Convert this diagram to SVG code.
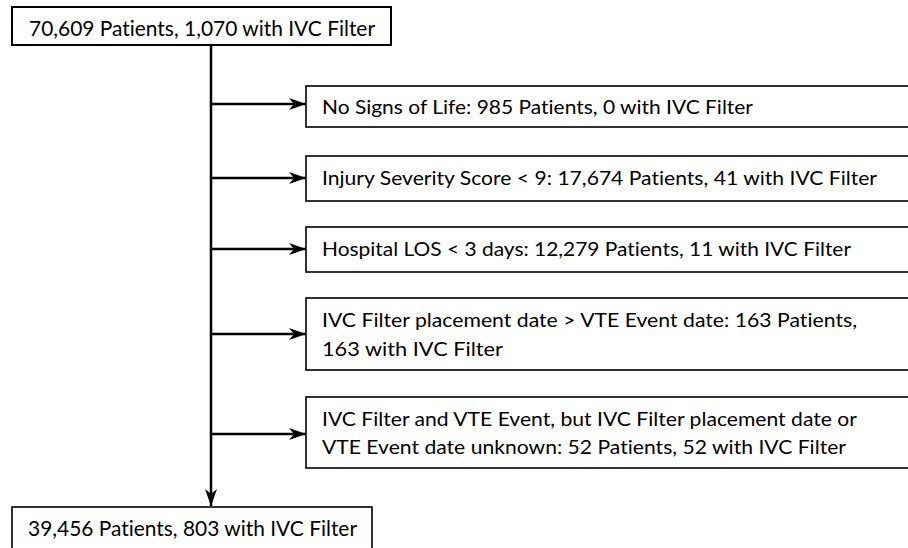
<svg xmlns="http://www.w3.org/2000/svg" width="908" height="548" viewBox="0 0 908 548">
<style>
.box{fill:#fff;stroke:#000;stroke-width:1.6}
.t{font-family:Lato,"Open Sans","Liberation Sans",sans-serif;font-size:20px;fill:#000;font-variant-ligatures:none;font-feature-settings:"liga" 0}
.big{font-size:22px}
.ln{stroke:#000;stroke-width:2.5;fill:none}
</style>
<defs>
<marker id="ah" markerWidth="18" markerHeight="12" refX="17" refY="6" orient="auto" markerUnits="userSpaceOnUse">
<path d="M0,0 L17,6 L0,12 L5,6 Z" fill="#000"/>
</marker>
</defs>
<rect width="908" height="548" fill="#fff"/>
<g id="connectors">
<line class="ln" x1="211" y1="45" x2="211" y2="506" marker-end="url(#ah)"/>
<line class="ln" x1="211" y1="104" x2="306" y2="104" marker-end="url(#ah)"/>
<line class="ln" x1="211" y1="178" x2="306" y2="178" marker-end="url(#ah)"/>
<line class="ln" x1="211" y1="249" x2="306" y2="249" marker-end="url(#ah)"/>
<line class="ln" x1="211" y1="334" x2="306" y2="334" marker-end="url(#ah)"/>
<line class="ln" x1="211" y1="434" x2="306" y2="434" marker-end="url(#ah)"/>
</g>
<g id="start">
<rect class="box" x="12" y="7" width="379" height="38" style="stroke-width:2"/>
<text class="t big" x="29" y="36" textLength="346" lengthAdjust="spacingAndGlyphs">70,609 Patients, 1,070 with IVC Filter</text>
</g>
<g id="ex1">
<rect class="box" x="306" y="86" width="620" height="41"/>
<text class="t" x="322" y="114" textLength="431" lengthAdjust="spacingAndGlyphs">No Signs of Life: 985 Patients, 0 with IVC Filter</text>
</g>
<g id="ex2">
<rect class="box" x="306" y="156" width="620" height="45"/>
<text class="t" x="322" y="185" textLength="555" lengthAdjust="spacingAndGlyphs">Injury Severity Score &lt; 9: 17,674 Patients, 41 with IVC Filter</text>
</g>
<g id="ex3">
<rect class="box" x="306" y="227" width="620" height="45"/>
<text class="t" x="322" y="256" textLength="529" lengthAdjust="spacingAndGlyphs">Hospital LOS &lt; 3 days: 12,279 Patients, 11 with IVC Filter</text>
</g>
<g id="ex4">
<rect class="box" x="306" y="298" width="620" height="72"/>
<text class="t" x="322" y="327" textLength="535" lengthAdjust="spacingAndGlyphs">IVC Filter placement date &gt; VTE Event date: 163 Patients,</text>
<text class="t" x="322" y="356" textLength="181" lengthAdjust="spacingAndGlyphs">163 with IVC Filter</text>
</g>
<g id="ex5">
<rect class="box" x="306" y="397" width="620" height="71"/>
<text class="t" x="322" y="426" textLength="535" lengthAdjust="spacingAndGlyphs">IVC Filter and VTE Event, but IVC Filter placement date or</text>
<text class="t" x="322" y="454" textLength="524" lengthAdjust="spacingAndGlyphs">VTE Event date unknown: 52 Patients, 52 with IVC Filter</text>
</g>
<g id="end">
<rect class="box" x="12" y="507" width="360" height="60"/>
<text class="t big" x="28" y="536" textLength="329" lengthAdjust="spacingAndGlyphs">39,456 Patients, 803 with IVC Filter</text>
</g>
</svg>
